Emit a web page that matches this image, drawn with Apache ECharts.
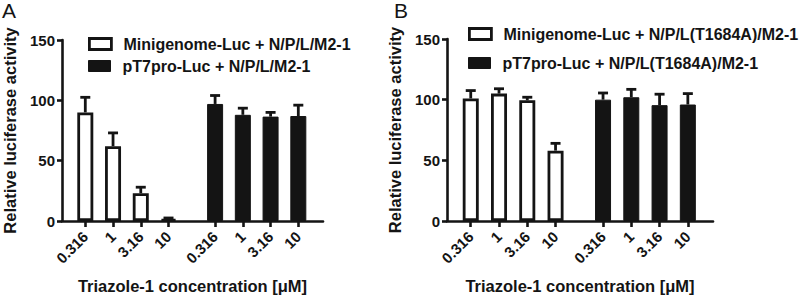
<!DOCTYPE html>
<html>
<head>
<meta charset="utf-8">
<script src="https://cdn.jsdelivr.net/npm/echarts@6/dist/echarts.min.js"></script>
<style>
  html, body { margin: 0; padding: 0; background: #fff; }
  #chart { width: 800px; height: 299px; }
</style>
</head>
<body>
<div id="chart"></div>
<script>
// concentrations of Triazole-1 (uM), same for both groups
const concentrations = ['0.316', '1', '3.16', '10'];
const yTicks = [0, 50, 100, 150];

// panel A
const namesA = ['Minigenome-Luc + N/P/L/M2-1', 'pT7pro-Luc + N/P/L/M2-1'];
const minigenomeA = [90, 62, 23, 1.5];
const minigenomeErrA = [12.5, 11, 5, 1];
const pt7A = [97, 88, 86.5, 87];
const pt7ErrA = [7, 5.5, 3.5, 9];

// panel B
const namesB = ['Minigenome-Luc + N/P/L(T1684A)/M2-1', 'pT7pro-Luc + N/P/L(T1684A)/M2-1'];
const minigenomeB = [101, 105, 99.5, 58];
const minigenomeErrB = [6.5, 4, 2.5, 6];
const pt7B = [100, 102, 95.5, 96];
const pt7ErrB = [5.5, 6.5, 9, 9];

const INK = '#141414';
const FONT = "'Liberation Sans', Arial, sans-serif";
const GROUP_GAP = 0.68; // extra space between the two groups, in slots

// slot position on the x value axis for group g, item i
const slot = (g, i) => 1 + i + g * (concentrations.length + GROUP_GAP);
const tickPos = [0, 1].flatMap(g => concentrations.map((c, i) => slot(g, i)));

function labelFor(v) {
  const k = tickPos.findIndex(p => Math.abs(p - v) < 1e-6);
  return k < 0 ? '' : concentrations[k % concentrations.length];
}

function errorBar(params, api) {
  const x = api.value(0), y = api.value(1), e = api.value(2);
  const b = api.coord([x, y]);
  const t = api.coord([x, y + e]);
  const half = 5;
  const st = { stroke: INK, lineWidth: 2.8 };
  return {
    type: 'group',
    children: [
      { type: 'line', shape: { x1: b[0], y1: b[1], x2: t[0], y2: t[1] }, style: st },
      { type: 'line', shape: { x1: t[0] - half, y1: t[1], x2: t[0] + half, y2: t[1] }, style: st }
    ]
  };
}

const boldText = { fontFamily: FONT, fontWeight: 'bold', color: INK, fontSize: 15 };

function xAxis(gi) {
  return {
    gridIndex: gi,
    type: 'value',
    min: 0.16,
    max: 9.57,
    splitLine: { show: false },
    axisLine: { onZero: false, lineStyle: { color: INK, width: 2.6 } },
    axisTick: { customValues: tickPos, length: 6, lineStyle: { color: INK, width: 2.6 } },
    axisLabel: Object.assign({}, boldText, { customValues: tickPos, rotate: 45, margin: 13, formatter: labelFor }),
    name: 'Triazole-1 concentration [\u03bcM]',
    nameLocation: 'middle',
    nameGap: 56,
    nameTextStyle: Object.assign({}, boldText, { fontSize: 16.5 })
  };
}

function yAxis(gi) {
  return {
    gridIndex: gi,
    type: 'value',
    min: yTicks[0],
    max: yTicks[yTicks.length - 1],
    interval: 50,
    splitLine: { show: false },
    axisLine: { show: true, lineStyle: { color: INK, width: 2.6 } },
    axisTick: { show: true, length: 5, lineStyle: { color: INK, width: 2.6 } },
    axisLabel: Object.assign({}, boldText, { margin: 7 }),
    name: 'Relative luciferase activity',
    nameLocation: 'middle',
    nameRotate: 90,
    nameGap: 44,
    nameTextStyle: Object.assign({}, boldText, { fontSize: 16.5 })
  };
}

const whiteStyle = { color: '#fff', borderColor: INK, borderWidth: 2.8 };
const blackStyle = { color: INK, borderColor: INK, borderWidth: 1 };

function panelSeries(gi, names, white, whiteErr, black, blackErr) {
  const pts = (g, vals, errs) => vals.map((v, i) => [slot(g, i), v, errs[i]]);
  const base = { type: 'bar', xAxisIndex: gi, yAxisIndex: gi, barWidth: 16, barGap: '-100%', animation: false };
  return [
    Object.assign({}, base, { name: names[0], itemStyle: whiteStyle, data: pts(0, white, whiteErr).map(p => [p[0], p[1]]) }),
    Object.assign({}, base, { name: names[1], itemStyle: blackStyle, data: pts(1, black, blackErr).map(p => [p[0], p[1]]) }),
    { type: 'custom', xAxisIndex: gi, yAxisIndex: gi, renderItem: errorBar, z: 5, animation: false,
      data: pts(0, white, whiteErr).concat(pts(1, black, blackErr)) }
  ];
}

function legendItem(name, style, left, top) {
  return {
    data: [{ name: name, itemStyle: style }],
    left: left,
    top: top,
    icon: 'rect',
    itemWidth: 22,
    itemHeight: 11,
    padding: 0,
    selectedMode: false,
    textStyle: Object.assign({}, boldText, { fontSize: 16, padding: [0, 0, 0, 7] })
  };
}

const chart = echarts.init(document.getElementById('chart'), null, { renderer: 'svg' });
chart.setOption({
  backgroundColor: '#fff',
  animation: false,
  title: [
    { text: 'A', left: 2, top: 0, padding: 0, textStyle: { fontFamily: FONT, fontWeight: 'normal', fontSize: 21, color: INK } },
    { text: 'B', left: 394, top: 0, padding: 0, textStyle: { fontFamily: FONT, fontWeight: 'normal', fontSize: 21, color: INK } }
  ],
  legend: [
    legendItem(namesA[0], whiteStyle, 88, 36),
    legendItem(namesA[1], blackStyle, 88, 58),
    legendItem(namesB[0], whiteStyle, 468, 26),
    legendItem(namesB[1], blackStyle, 468, 55)
  ],
  grid: [
    { left: 62, top: 40, width: 261, height: 185 },
    { left: 447, top: 39, width: 266, height: 188 }
  ],
  xAxis: [xAxis(0), xAxis(1)],
  yAxis: [yAxis(0), yAxis(1)],
  series: panelSeries(0, namesA, minigenomeA, minigenomeErrA, pt7A, pt7ErrA)
    .concat(panelSeries(1, namesB, minigenomeB, minigenomeErrB, pt7B, pt7ErrB))
});
</script>
</body>
</html>
